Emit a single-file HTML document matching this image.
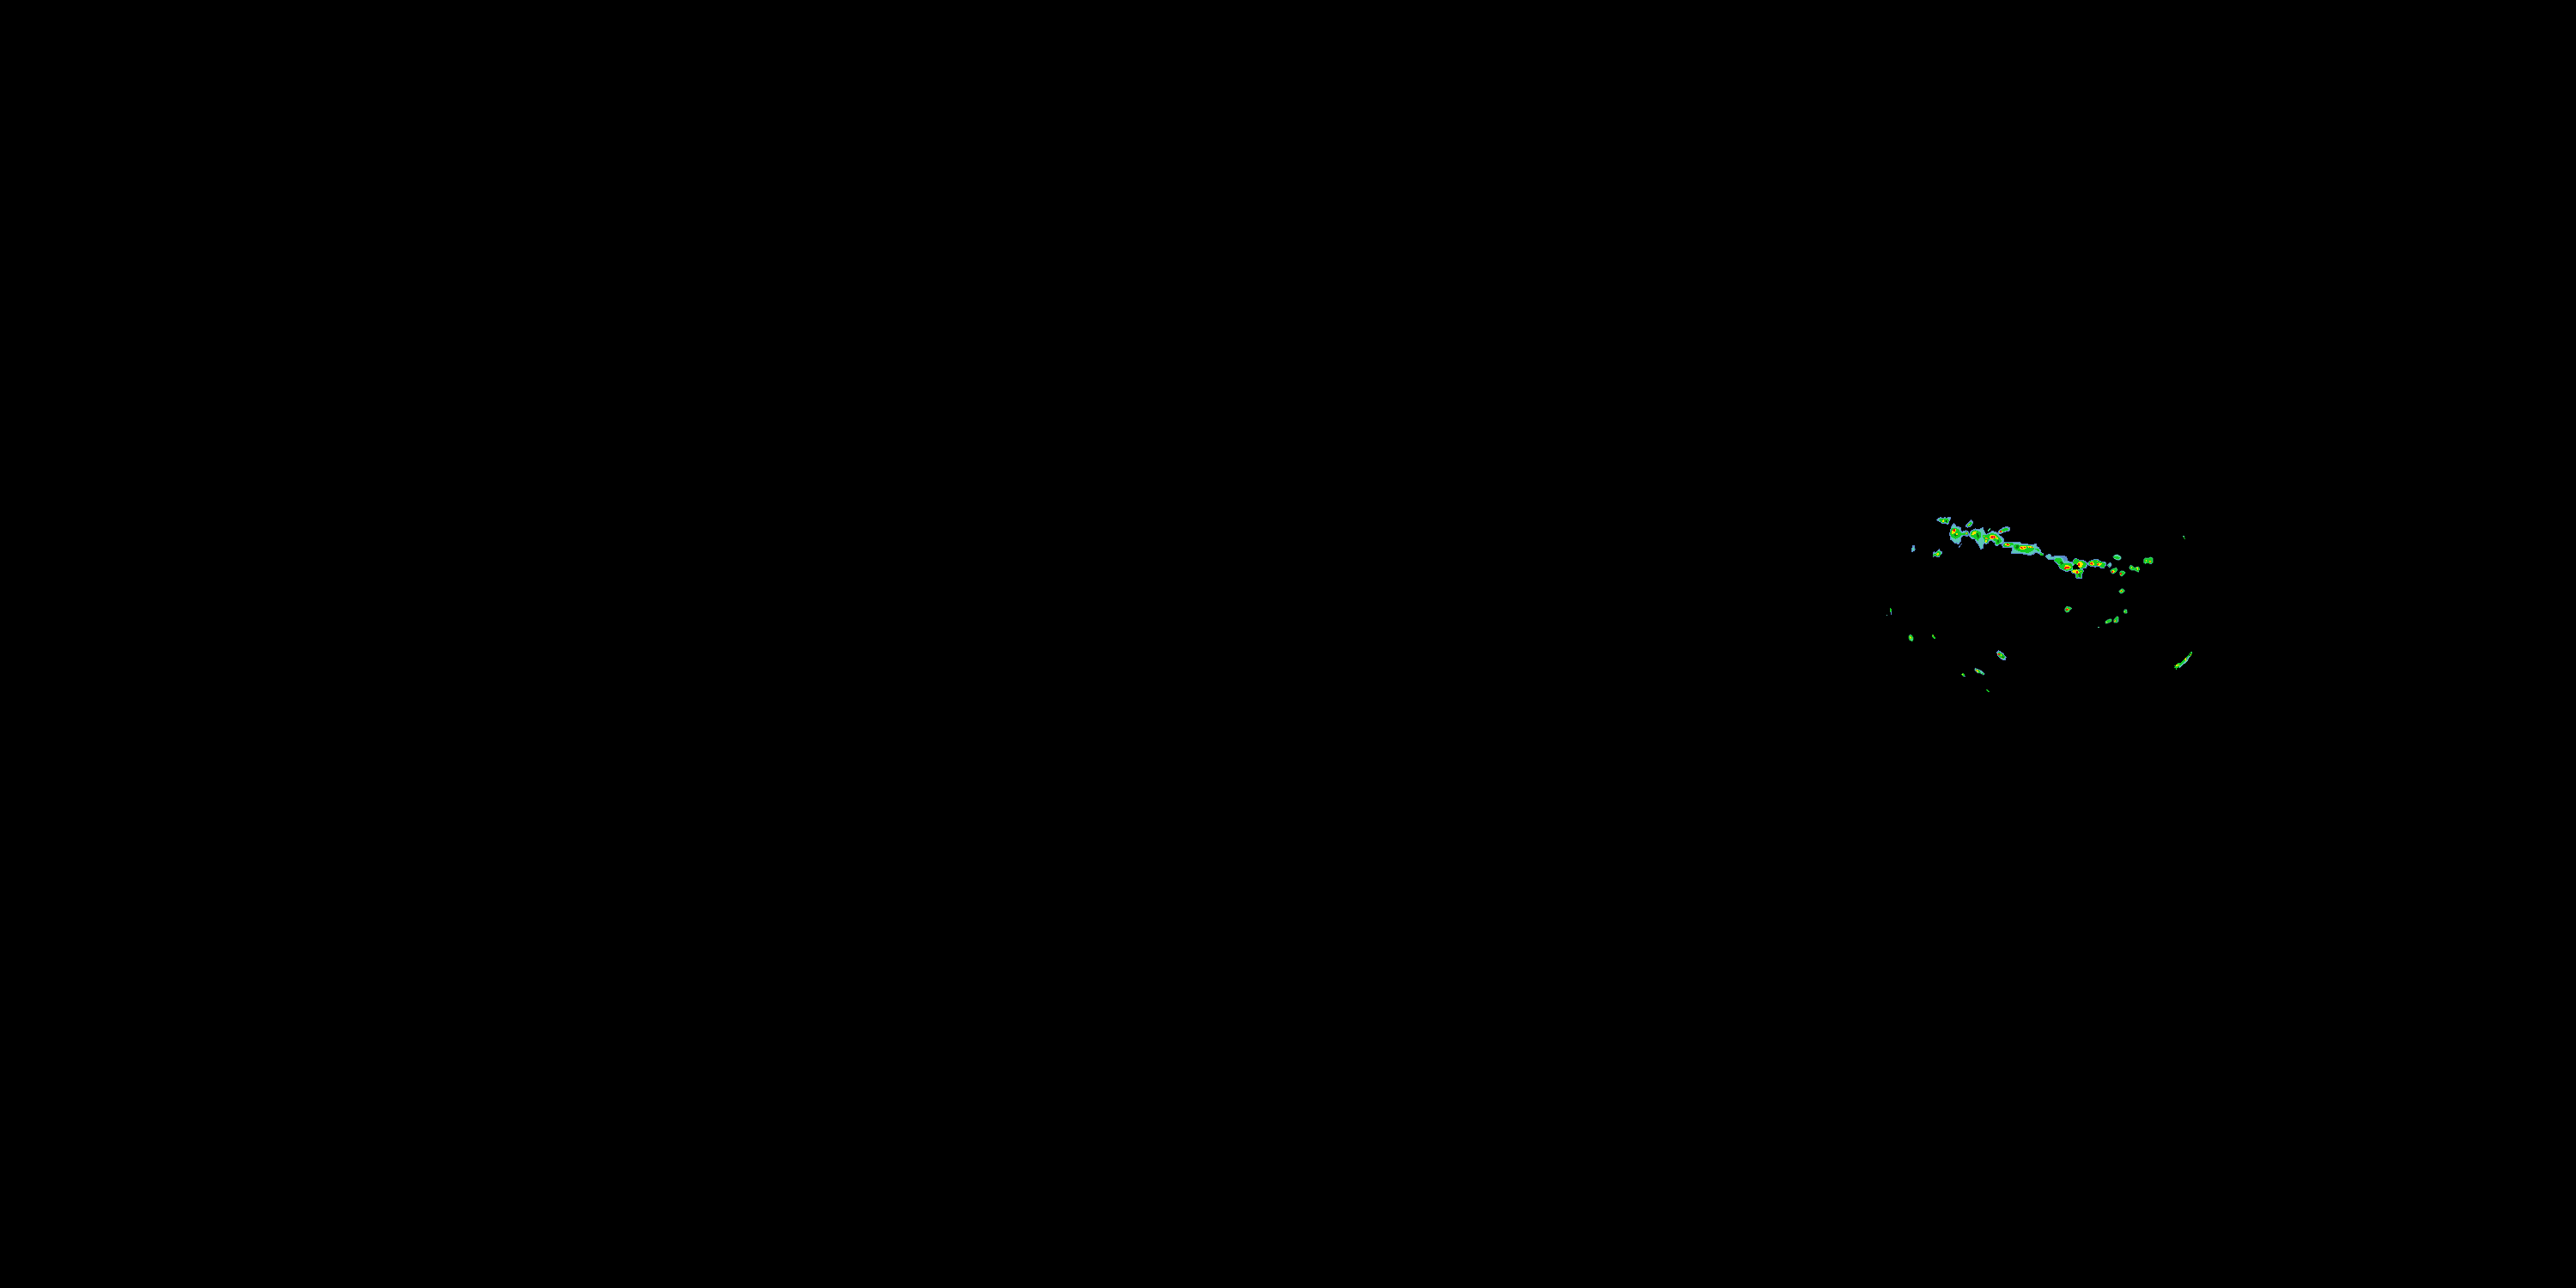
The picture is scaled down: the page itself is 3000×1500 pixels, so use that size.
<!DOCTYPE html>
<html><head><meta charset="utf-8"><title>Radar</title>
<style>
html,body{margin:0;padding:0;background:#000;width:3000px;height:1500px;overflow:hidden;font-family:"Liberation Sans",sans-serif;}
svg{position:absolute;left:0;top:0;display:block;}
</style></head><body>
<svg width="3000" height="1500" viewBox="0 0 3000 1500" shape-rendering="crispEdges">
<rect width="3000" height="1500" fill="#000"/>
<g transform="translate(2190 595) scale(0.046577)">
<polygon points="1415,225 1450,185 1500,170 1560,175 1600,170 1660,175 1700,160 1740,150 1740,210 1715,250 1715,290 1670,340 1640,310 1600,300 1570,320 1530,320 1520,290 1470,260 1440,250" fill="#5cc6b8" stroke="#5c88cc" stroke-width="22" stroke-linejoin="round"/>
<polygon points="1450,220 1490,190 1550,185 1600,200 1640,180 1690,190 1710,240 1690,290 1650,300 1600,280 1560,300 1530,280 1480,250" fill="#14cc24"/>
<ellipse cx="1640" cy="255" rx="14" ry="18" fill="#000"/>
<polygon points="1545,250 1575,215 1595,225 1580,270 1555,270" fill="#ffe200"/>
<polygon points="800,880 855,880 860,960 840,1000 815,1005 790,1030 775,1010 780,950 800,920" fill="#5cc6b8" stroke="#5c88cc" stroke-width="22" stroke-linejoin="round"/>
<ellipse cx="825" cy="955" rx="22" ry="30" fill="#50d8a0"/>
<polygon points="1310,1080 1340,1030 1380,1050 1420,1000 1470,965 1490,1005 1525,1020 1525,1070 1500,1090 1470,1140 1400,1140 1350,1130 1320,1140" fill="#50d8a0" stroke="#5c88cc" stroke-width="22" stroke-linejoin="round"/>
<polygon points="1315,1090 1350,1070 1400,1060 1430,1000 1480,1010 1510,1060 1490,1120 1420,1135 1360,1120 1320,1130" fill="#14cc24"/>
<polygon points="1400,1090 1430,1040 1460,1050 1455,1100 1420,1110" fill="#ffe200"/>
<polygon points="1415,1085 1445,1065 1445,1095 1425,1100" fill="#ff9c00"/>
<polygon points="1765,405 1835,320 1905,400 1960,405 2015,430 2020,540 2090,500 2147,490 2147,620 2090,600 2020,650 2010,740 1975,800 1945,835 1900,790 1860,810 1840,780 1790,740 1740,700 1745,650 1735,600 1740,520 1760,470" fill="#5cc6b8" stroke="#5c88cc" stroke-width="22" stroke-linejoin="round"/>
<polygon points="1770,450 1830,420 1900,430 1960,460 1990,520 2020,560 2147,540 2147,600 2020,610 1990,650 1950,670 1880,700 1820,680 1760,640 1745,580 1750,520" fill="#14cc24"/>
<polygon points="1840,580 1900,570 1930,620 1880,640 1840,620" fill="#0a7a12"/>
<polygon points="1770,540 1800,490 1830,450 1880,460 1890,500 1850,560 1810,580 1780,570" fill="#ffe200"/>
<polygon points="1890,570 1920,555 1930,590 1900,600" fill="#ffe200"/>
<polygon points="1810,470 1840,445 1870,455 1860,505 1830,510 1810,495" fill="#f01010"/>
<ellipse cx="2135" cy="560" rx="16" ry="24" fill="#ffe200"/>
<polyline points="2030,820 1960,915" fill="none" stroke="#5c88cc" stroke-width="22" stroke-linecap="round" stroke-linejoin="round"/>
</g>
<g transform="translate(2190 655) scale(0.046577)">
<polyline points="265,1240 265,1300" fill="none" stroke="#5c88cc" stroke-width="28" stroke-linecap="round" stroke-linejoin="round"/>
<polyline points="250,1150 255,1220" fill="none" stroke="#14cc24" stroke-width="36" stroke-linecap="round" stroke-linejoin="round"/>
</g>
<g transform="translate(2190 715) scale(0.046577)">
<ellipse cx="160" cy="32" rx="16" ry="16" fill="#5cc6b8"/>
<polygon points="710,550 750,515 790,545 815,590 815,640 790,690 760,660 730,660 710,600" fill="#50d8a0" stroke="#14cc24" stroke-width="18" stroke-linejoin="round"/>
<polygon points="715,560 750,525 790,560 805,610 760,635 720,600" fill="#14cc24"/>
<polygon points="730,570 750,555 772,600 755,628" fill="#ffe200"/>
<ellipse cx="740" cy="522" rx="12" ry="10" fill="#5c88cc"/>
<polyline points="1300,530 1330,585 1360,612" fill="none" stroke="#14cc24" stroke-width="40" stroke-linecap="round" stroke-linejoin="round"/>
<ellipse cx="1322" cy="552" rx="12" ry="14" fill="#ff9c00"/>
</g>
<g transform="translate(2190 775) scale(0.046577)">
<polygon points="2020,225 2060,190 2100,215 2105,255 2080,285 2050,260" fill="#14cc24"/>
<ellipse cx="2045" cy="225" rx="16" ry="16" fill="#ffe200"/>
<ellipse cx="2105" cy="268" rx="18" ry="12" fill="#5c88cc"/>
</g>
<g transform="translate(2290 595) scale(0.046577)">
<polygon points="0,350 60,290 120,235 170,290 150,330 100,385 40,410 0,400" fill="#5cc6b8" stroke="#5c88cc" stroke-width="22" stroke-linejoin="round"/>
<polygon points="20,350 70,300 120,280 150,300 100,370 50,390 15,375" fill="#14cc24"/>
<polygon points="45,345 75,320 90,340 60,365" fill="#ffe200"/>
<polygon points="0,500 50,520 60,560 40,620 0,645" fill="#5cc6b8" stroke="#5c88cc" stroke-width="22" stroke-linejoin="round"/>
<polygon points="0,520 45,540 45,600 0,610" fill="#14cc24"/>
<ellipse cx="5" cy="565" rx="18" ry="22" fill="#c8b000"/>
<polygon points="60,600 110,510 190,470 230,450 300,470 370,440 420,410 430,480 470,560 510,590 560,560 610,530 650,500 700,520 760,540 810,600 880,650 940,720 930,790 880,830 830,830 770,880 730,860 710,800 620,730 560,760 540,800 490,830 440,800 420,870 420,920 360,965 330,900 300,830 240,760 220,700 140,700 90,650" fill="#5cc6b8" stroke="#5c88cc" stroke-width="22" stroke-linejoin="round"/>
<polygon points="110,560 150,500 220,480 300,500 350,530 380,600 360,650 310,720 290,750 250,720 200,680 130,650 100,610" fill="#14cc24"/>
<polygon points="400,600 450,590 500,610 560,580 620,560 700,570 760,600 820,660 860,700 880,760 840,810 780,840 740,830 720,760 640,700 560,720 530,790 470,800 450,720 410,660" fill="#14cc24"/>
<polygon points="260,560 300,560 320,640 300,700 270,660" fill="#0a7a12"/>
<polygon points="760,720 810,730 830,780 790,800" fill="#0a7a12"/>
<polygon points="130,590 160,530 220,500 255,530 230,570 180,600 150,605" fill="#ffe200"/>
<ellipse cx="437" cy="632" rx="18" ry="18" fill="#ffe200"/>
<polygon points="465,690 480,660 525,670 530,705 490,715" fill="#ff9c00"/>
<polygon points="465,780 480,730 520,720 525,760 490,790" fill="#ffe200"/>
<polygon points="575,640 600,600 660,600 730,620 760,650 740,690 680,700 610,700 580,680" fill="#ffe200"/>
<polygon points="605,650 640,620 700,625 730,655 700,685 640,690" fill="#f01010"/>
<ellipse cx="675" cy="652" rx="12" ry="12" fill="#e8a8a8"/>
<polygon points="750,680 775,660 795,690 770,710" fill="#ffe200"/>
<polygon points="790,550 820,490 870,460 930,420 990,405 1075,410 1075,490 1010,510 940,530 860,570 810,560" fill="#5cc6b8" stroke="#5c88cc" stroke-width="22" stroke-linejoin="round"/>
<polygon points="815,530 870,480 940,440 1000,430 1050,450 1030,490 950,510 880,540 830,550" fill="#14cc24"/>
<polygon points="800,545 830,500 880,485 905,520 860,545" fill="#ffe200"/>
<polygon points="820,535 845,505 880,495 895,520 860,538" fill="#f01010"/>
<polyline points="595,435 545,505" fill="none" stroke="#50d8a0" stroke-width="25" stroke-linecap="round" stroke-linejoin="round"/>
<ellipse cx="420" cy="415" rx="12" ry="12" fill="#5c88cc"/>
<ellipse cx="650" cy="505" rx="12" ry="12" fill="#5c88cc"/>
<polygon points="900,850 940,790 1000,775 1160,775 1230,790 1300,775 1360,800 1380,830 1600,840 1650,860 1720,820 1750,830 1740,880 1800,910 1860,990 1870,1040 1910,1060 1930,1100 1850,1110 1850,1080 1780,1050 1720,1030 1680,1080 1620,1100 1550,1110 1530,1080 1500,1090 1440,1080 1380,1060 1270,1060 1230,1070 1120,1070 1140,1000 1160,930 1120,900 1060,920 1000,920 940,920 905,900" fill="#5cc6b8" stroke="#5c88cc" stroke-width="22" stroke-linejoin="round"/>
<polygon points="920,850 960,800 1050,790 1150,800 1190,840 1120,870 1060,900 1000,910 940,890" fill="#14cc24"/>
<polygon points="1200,840 1280,830 1340,860 1500,860 1620,870 1680,900 1700,950 1650,1000 1600,1030 1540,1050 1480,1040 1400,1040 1330,1010 1270,990 1210,960 1180,900" fill="#14cc24"/>
<polygon points="1720,950 1780,940 1850,990 1800,1010" fill="#14cc24"/>
<polygon points="1850,1050 1900,1070 1930,1110 1850,1110" fill="#14cc24"/>
<polygon points="1240,860 1300,850 1310,920 1270,960 1230,930" fill="#0a7a12"/>
<polygon points="950,830 990,810 1060,815 1110,840 1080,870 1010,870 960,860" fill="#ffe200"/>
<polygon points="990,830 1030,820 1090,835 1060,855 1000,850" fill="#f01010"/>
<polygon points="1330,900 1360,880 1420,890 1480,880 1510,900 1490,940 1440,960 1370,960 1335,940" fill="#ffe200"/>
<polygon points="1345,900 1380,890 1400,920 1440,910 1480,900 1470,920 1400,940 1360,930" fill="#f01010"/>
<polygon points="1530,890 1600,880 1670,900 1660,930 1560,925" fill="#ffe200"/>
<ellipse cx="1580" cy="903" rx="14" ry="12" fill="#f01010"/>
<ellipse cx="1640" cy="910" rx="12" ry="10" fill="#f01010"/>
</g>
<g transform="translate(2290 715) scale(0.046577)">
<polygon points="770,960 810,920 850,940 900,980 940,1020 990,1080 980,1120 960,1160 920,1150 870,1120 820,1070 780,1030" fill="#5cc6b8" stroke="#5c88cc" stroke-width="22" stroke-linejoin="round"/>
<polygon points="790,980 830,950 900,1000 965,1070 950,1115 900,1130 840,1080 795,1030" fill="#14cc24"/>
<polygon points="780,1000 820,980 845,1010 820,1035 790,1030" fill="#ffe200"/>
<polygon points="795,1000 820,990 838,1010 820,1028 800,1025" fill="#f01010"/>
<ellipse cx="870" cy="1030" rx="12" ry="14" fill="#ffe200"/>
<ellipse cx="890" cy="1110" rx="14" ry="16" fill="#ffe200"/>
<ellipse cx="910" cy="1080" rx="30" ry="20" fill="#0a7a12"/>
</g>
<g transform="translate(2290 775) scale(0.046577)">
<polygon points="210,100 225,65 260,85 330,110 380,130 420,170 455,210 430,240 380,210 320,180 280,190 240,150 215,130" fill="#50d8a0" stroke="#5c88cc" stroke-width="14" stroke-linejoin="round"/>
<polygon points="220,100 260,95 330,120 360,160 430,210 420,230 370,200 300,180 240,140" fill="#14cc24"/>
<polygon points="330,130 375,135 415,180 400,200 350,170" fill="#5cc6b8"/>
<polygon points="230,115 270,105 310,150 290,170 250,140" fill="#ff9c00"/>
<ellipse cx="290" cy="150" rx="14" ry="14" fill="#ffe200"/>
<polyline points="520,612 540,640 568,655" fill="none" stroke="#14cc24" stroke-width="36" stroke-linecap="round" stroke-linejoin="round"/>
</g>
<g transform="translate(2370 635) scale(0.046577)">
<polygon points="260,290 300,250 350,215 400,240 410,300 460,290 520,260 650,258 790,290 800,370 860,420 940,430 960,380 1000,330 1040,330 1090,370 1160,370 1240,390 1280,430 1330,440 1360,400 1440,370 1550,345 1600,380 1660,410 1760,430 1770,490 1740,540 1720,575 1660,570 1600,530 1530,520 1510,550 1480,520 1400,530 1340,500 1300,470 1290,520 1280,575 1220,570 1180,590 1215,655 1190,690 1160,700 1160,830 1060,835 1010,800 1010,760 1030,730 990,700 930,690 910,640 880,620 800,660 760,650 700,610 640,590 600,540 580,500 540,440 480,400 470,340 410,360 340,360 300,320" fill="#5cc6b8" stroke="#5c88cc" stroke-width="22" stroke-linejoin="round"/>
<polygon points="560,270 680,262 790,295 800,380 740,400 700,330 620,290" fill="#5c88cc"/>
<polygon points="940,520 990,480 1050,475 1100,530 1130,580 1080,615 1000,600 940,590" fill="#000"/>
<polygon points="480,380 520,330 580,310 650,330 690,400 700,440 660,470 600,470 540,430" fill="#14cc24"/>
<polygon points="580,500 640,470 720,450 800,440 900,460 940,520 930,600 880,620 800,640 720,620 640,580" fill="#14cc24"/>
<polygon points="950,410 1000,340 1060,350 1100,380 1200,390 1260,430 1290,480 1260,540 1200,570 1140,580 1100,560 1060,500 1000,470 950,460" fill="#14cc24"/>
<polygon points="910,630 960,600 1040,600 1090,620 1140,600 1190,620 1210,660 1170,700 1150,760 1150,820 1060,825 1020,790 1040,740 1000,700 930,680" fill="#14cc24"/>
<polygon points="1340,440 1380,390 1450,380 1550,360 1620,400 1700,430 1760,460 1740,540 1700,570 1640,540 1560,510 1500,520 1420,520 1360,500" fill="#14cc24"/>
<polygon points="620,420 690,410 710,470 650,490" fill="#0a7a12"/>
<polygon points="1080,720 1140,710 1145,790 1090,790" fill="#0a7a12"/>
<ellipse cx="1100" cy="800" rx="30" ry="14" fill="#5c88cc"/>
<polygon points="720,560 760,500 820,500 880,520 900,560 860,600 780,610 730,600" fill="#ffe200"/>
<polygon points="730,570 780,530 860,530 850,570 790,590 740,595" fill="#f01010"/>
<polygon points="1050,460 1090,420 1140,410 1200,450 1190,500 1160,550 1120,560 1070,520" fill="#ffe200"/>
<polygon points="1060,470 1090,440 1120,460 1130,500 1100,520 1070,510" fill="#f01010"/>
<polygon points="920,650 980,620 1040,610 1090,640 1110,680 1070,720 1000,690 940,680" fill="#ffe200"/>
<polygon points="1030,650 1060,640 1080,680 1050,720 1030,700" fill="#f01010"/>
<ellipse cx="1150" cy="650" rx="14" ry="16" fill="#ffe200"/>
<polygon points="1370,440 1410,400 1460,420 1480,480 1440,510 1390,500" fill="#ffe200"/>
<polygon points="1375,450 1410,420 1450,450 1440,490 1400,480" fill="#f01010"/>
<polygon points="1540,460 1600,440 1670,460 1660,500 1580,510" fill="#ffe200"/>
<polygon points="1545,470 1590,455 1600,490 1560,495" fill="#f01010"/>
<ellipse cx="1550" cy="395" rx="12" ry="14" fill="#ffe200"/>
<polygon points="1800,500 1850,450 1880,430 1910,470 1905,520 1860,560 1840,530" fill="#5cc6b8" stroke="#5c88cc" stroke-width="18" stroke-linejoin="round"/>
<polygon points="1810,500 1850,480 1860,530" fill="#14cc24"/>
<polygon points="1885,640 1920,600 1990,580 2030,560 2060,620 2010,680 1950,710 1910,690" fill="#14cc24" stroke="#50d8a0" stroke-width="16" stroke-linejoin="round"/>
<polygon points="1900,640 1940,610 2010,600 2030,630 1990,680 1930,690" fill="#14cc24"/>
<polygon points="1930,640 1970,620 2000,650 1960,680" fill="#ffe200"/>
<polygon points="1910,660 1940,630 1960,660 1930,690" fill="#f01010"/>
<polygon points="1950,290 1990,250 2060,235 2120,270 2147,290 2147,340 2100,370 2040,360 1980,330" fill="#50d8a0" stroke="#5cc6b8" stroke-width="16" stroke-linejoin="round"/>
<polygon points="1960,290 2010,270 2080,290 2130,310 2080,350 2000,330" fill="#14cc24"/>
</g>
<g transform="translate(2390 655) scale(0.046577)">
<polygon points="1690,240 1720,215 1790,220 1830,260 1790,300 1740,345 1700,320" fill="#14cc24" stroke="#50d8a0" stroke-width="16" stroke-linejoin="round"/>
<polygon points="1700,250 1780,240 1810,260 1770,300 1720,320" fill="#14cc24"/>
<polygon points="1695,260 1730,260 1740,290 1710,310" fill="#f01010"/>
<ellipse cx="1710" cy="310" rx="14" ry="14" fill="#ffe200"/>
<polygon points="1930,120 1960,70 2010,90 2060,140 2100,120 2160,110 2160,240 2110,220 2060,190 1980,190 1940,160" fill="#14cc24" stroke="#50d8a0" stroke-width="16" stroke-linejoin="round"/>
<polygon points="1950,130 1990,100 2040,150 2100,150 2160,140 2160,220 2060,170 1980,170" fill="#14cc24"/>
<polygon points="1950,130 2000,110 1990,150" fill="#ffe200"/>
<polygon points="2110,140 2160,130 2160,200 2120,180" fill="#ffe200"/>
<polygon points="1670,720 1720,670 1760,660 1800,690 1810,720 1760,760 1710,775" fill="#14cc24" stroke="#50d8a0" stroke-width="16" stroke-linejoin="round"/>
<polygon points="1690,720 1730,690 1780,700 1760,740 1720,750" fill="#14cc24"/>
<polygon points="1700,725 1735,690 1760,735" fill="#ffe200"/>
<ellipse cx="1732" cy="718" rx="14" ry="12" fill="#f01010"/>
<polygon points="320,1160 360,1100 400,1110 450,1120 490,1150 440,1190 420,1230 360,1245 320,1210" fill="#14cc24" stroke="#50d8a0" stroke-width="16" stroke-linejoin="round"/>
<polygon points="330,1170 370,1120 420,1140 440,1160 410,1210 350,1220" fill="#14cc24"/>
<polygon points="335,1165 380,1140 420,1170 400,1205 345,1210" fill="#ffe200"/>
<polygon points="345,1170 390,1155 405,1180 370,1200 350,1195" fill="#f01010"/>
<polygon points="1790,1230 1810,1180 1860,1180 1870,1265 1810,1270" fill="#14cc24" stroke="#50d8a0" stroke-width="16" stroke-linejoin="round"/>
<polygon points="1800,1230 1830,1200 1850,1260 1810,1260" fill="#14cc24"/>
<ellipse cx="1822" cy="1235" rx="10" ry="18" fill="#ffe200"/>
</g>
<g transform="translate(2390 715) scale(0.046577)">
<polygon points="1135,332 1160,318 1185,332 1160,346" fill="#50d8a0"/>
<polygon points="1330,190 1380,150 1440,130 1480,130 1485,180 1440,210 1380,230 1340,240" fill="#14cc24" stroke="#50d8a0" stroke-width="14" stroke-linejoin="round"/>
<polygon points="1345,200 1400,160 1460,150 1470,180 1420,200 1370,225" fill="#14cc24"/>
<ellipse cx="1360" cy="205" rx="14" ry="14" fill="#ffe200"/>
<polygon points="1540,150 1570,110 1620,60 1655,80 1655,190 1620,215 1545,215" fill="#14cc24" stroke="#50d8a0" stroke-width="14" stroke-linejoin="round"/>
<polygon points="1550,150 1600,100 1640,90 1635,190 1560,205" fill="#14cc24"/>
<polygon points="1550,170 1580,150 1592,190 1560,200" fill="#ff9c00"/>
<polygon points="1630,130 1655,140 1655,190 1635,190" fill="#5c88cc"/>
</g>
<g transform="translate(2490 595) scale(0.046577)">
<ellipse cx="1135" cy="633" rx="20" ry="12" fill="#50d8a0"/>
<polyline points="1145,650 1150,680 1170,700" fill="none" stroke="#14cc24" stroke-width="22" stroke-linecap="round" stroke-linejoin="round"/>
<polygon points="145,1210 180,1180 230,1185 270,1180 310,1160 365,1180 365,1300 145,1300" fill="#14cc24" stroke="#50d8a0" stroke-width="16" stroke-linejoin="round"/>
<polygon points="160,1220 200,1200 330,1190 355,1300 160,1300" fill="#14cc24"/>
<ellipse cx="202" cy="1250" rx="12" ry="20" fill="#ffe200"/>
<polygon points="280,1240 320,1240 320,1300 280,1300" fill="#ff9c00"/>
</g>
<g transform="translate(2490 655) scale(0.046577)">
<polygon points="145,-10 215,-10 205,30 180,45 160,20" fill="#14cc24"/>
<polygon points="255,-10 345,-10 345,30 300,40 260,20" fill="#14cc24"/>
<ellipse cx="322" cy="35" rx="16" ry="10" fill="#5c88cc"/>
<ellipse cx="195" cy="5" rx="18" ry="14" fill="#5cc6b8"/>
<polygon points="0,110 30,120 45,160 35,200 0,215" fill="#14cc24"/>
<ellipse cx="30" cy="180" rx="12" ry="14" fill="#50d8a0"/>
</g>
<g transform="translate(2490 715) scale(0.046577)">
<polygon points="1334,941 1244,1036 1209,1076 1159,1116 1104,1181 1074,1221 994,1226 969,1251 924,1291 904,1300 1060,1300 1119,1271 1164,1246 1184,1241 1219,1201 1244,1176 1264,1121 1309,1061 1334,1041 1354,961" fill="#14cc24"/>
<polygon points="1309,1061 1264,1111 1244,1176 1219,1201 1119,1271 1069,1300 1034,1300 1064,1290 1094,1251 1144,1201 1194,1181 1219,1131 1244,1091 1289,1051" fill="#5cc6b8"/>
<polygon points="1240,1090 1262,1085 1230,1160 1215,1150" fill="#5c88cc"/>
<polygon points="1269,1000 1320,960 1344,985 1310,1050 1275,1045" fill="#0a7a12"/>
<ellipse cx="1344" cy="951" rx="14" ry="14" fill="#50d8a0"/>
<polygon points="1164,1110 1190,1096 1204,1130 1198,1176 1175,1165" fill="#ffe200"/>
<ellipse cx="1322" cy="1020" rx="13" ry="16" fill="#ffe200"/>
<polygon points="944,1290 970,1266 1024,1270 1010,1300 950,1300" fill="#ffe200"/>
</g>
<g transform="translate(2490 775) scale(0.046577)">
<polygon points="900,50 930,20 940,-10 1060,-10 1020,40 980,70 955,105 940,70" fill="#14cc24"/>
<ellipse cx="965" cy="5" rx="22" ry="20" fill="#ffe200"/>
<polygon points="1040,-10 1095,-10 1070,40 1040,60 1020,45" fill="#5cc6b8"/>
</g>
</svg>
</body></html>
